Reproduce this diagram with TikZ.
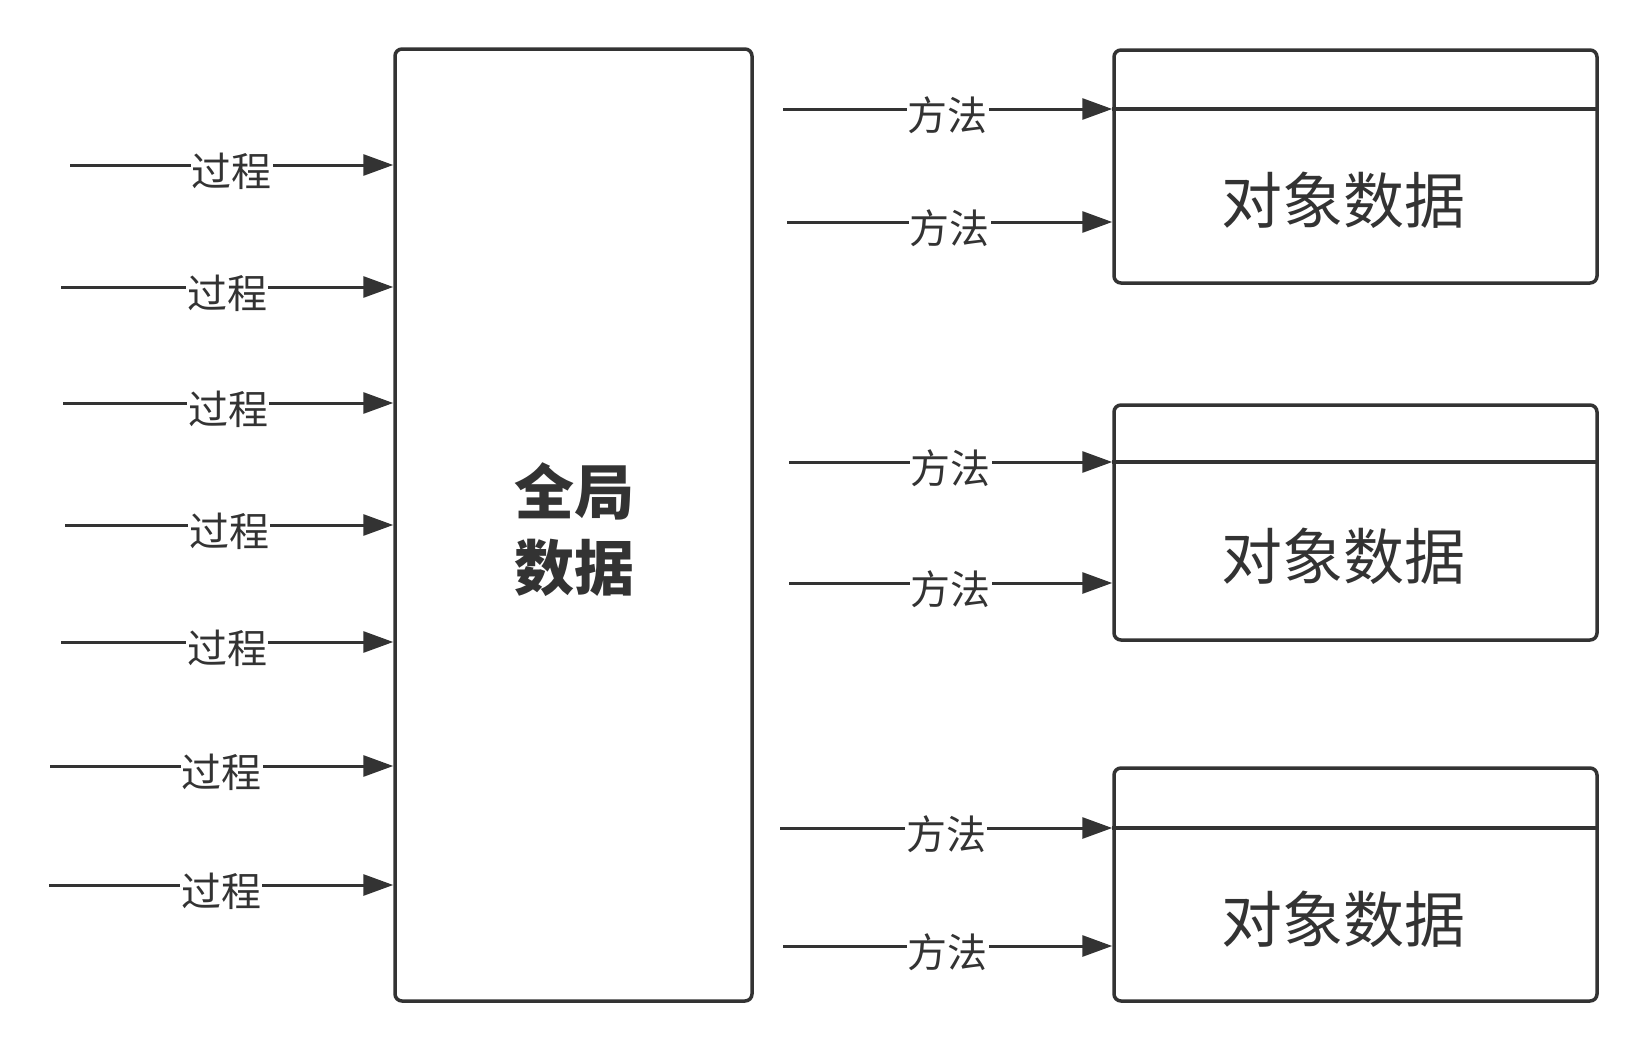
\documentclass[tikz,border=0pt]{standalone}
\usepackage{fontspec}
\newfontfamily\cjk{Noto Sans CJK SC}
\usetikzlibrary{arrows.meta}
\definecolor{ink}{HTML}{333333}
\begin{document}
\begin{tikzpicture}[x=1pt,y=-1pt,
  box/.style={draw=ink, line width=3.5pt, rounded corners=7pt, inner sep=0pt, text=ink},
  conn/.style={draw=ink, line width=3pt, -{Triangle[length=30pt,width=21pt]}},
  lbl/.style={fill=white, text=ink, inner sep=1pt, font=\cjk\fontsize{40}{44}\selectfont, yshift=-6pt},
  objtxt/.style={text=ink, font=\cjk\fontsize{61}{66}\selectfont},
  divider/.style={draw=ink, line width=3.5pt}
]
\useasboundingbox (0,0) rectangle (1647,1052);
% main box
\node[box, minimum width=357pt, minimum height=952pt] (main) at (573.5,525) {};
\node[text=ink, align=center, font=\cjk\bfseries\fontsize{60}{76}\selectfont] (maintxt) at (574,530) {全局\\数据};
% left arrows
\foreach \i/\x/\y in {1/70/165, 2/61/287, 3/63/403, 4/65/525, 5/61/642, 6/50/766, 7/49/885}{
  \coordinate (p\i) at (\x,\y);
  \draw[conn] (p\i) -- node[lbl] (pl\i) {过程} (p\i -| main.west);
}
% object boxes
\node[box, minimum width=483pt, minimum height=233pt] (ob1) at (1355.5,166.5) {};
\node[box, minimum width=483pt, minimum height=235pt] (ob2) at (1355.5,522.5) {};
\node[box, minimum width=483pt, minimum height=233pt] (ob3) at (1355.5,884.5) {};
\coordinate (d1) at (1114,109);
\coordinate (d2) at (1114,462);
\coordinate (d3) at (1114,828);
\draw[divider] (d1 -| ob1.west) -- (d1 -| ob1.east);
\draw[divider] (d2 -| ob2.west) -- (d2 -| ob2.east);
\draw[divider] (d3 -| ob3.west) -- (d3 -| ob3.east);
\node[objtxt] (t1) at (1343.5,200) {对象数据};
\node[objtxt] (t2) at (1343.5,556) {对象数据};
\node[objtxt] (t3) at (1343.5,919) {对象数据};
% right arrows
\foreach \i/\x/\y/\b in {1/783/109/ob1, 2/787/222/ob1, 3/789/462/ob2, 4/789/583/ob2, 5/780/828/ob3, 6/783/946/ob3}{
  \coordinate (q\i) at (\x,\y);
  \draw[conn] (q\i) -- node[lbl] (ql\i) {方法} (q\i -| \b.west);
}
\end{tikzpicture}
\end{document}
